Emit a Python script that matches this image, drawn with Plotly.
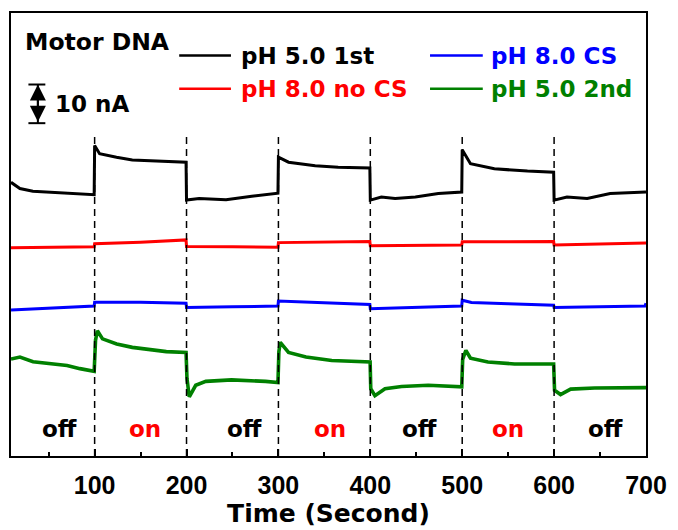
import plotly.graph_objects as go

# ---------------- data ----------------
t_black = [9, 18.7, 32.8, 69.7, 99.5, 100, 105.4, 123.8, 141, 199.5,
           200, 213.7, 243, 271, 299.5, 300, 311, 340, 365, 399.5,
           400, 412, 427, 449, 474, 499.5, 500, 509, 535, 571,
           599.5, 600, 614, 636, 661, 700]
i_black = [70.8, 69.2, 68.5, 68.0, 67.6, 80.3, 78.2, 77.3, 76.6, 76.0,
           66.2, 66.6, 66.3, 67.2, 68.0, 77.3, 76.0, 75.1, 74.7, 74.5,
           66.2, 67.0, 66.6, 67.0, 67.9, 68.3, 79.2, 75.6, 74.3, 73.7,
           73.4, 66.2, 67.0, 66.6, 67.9, 68.3]

t_red = [9, 50, 99.5, 100, 150, 199.5, 200, 250, 299.5, 300, 350, 399.5,
         400, 450, 499.5, 500, 550, 599.5, 600, 650, 700]
i_red = [53.9, 54.0, 54.1, 54.9, 55.3, 55.9, 54.2, 54.1, 54.0, 55.2, 55.4, 55.5,
         54.4, 54.5, 54.6, 55.4, 55.4, 55.5, 54.6, 54.8, 55.1]

t_blue = [9, 50, 99.5, 100, 150, 199.5, 200, 250, 299.5, 300, 350, 399.5,
          400, 450, 499.5, 500, 510, 550, 599.5, 600, 650, 699, 700]
i_blue = [37.8, 38.3, 38.8, 39.8, 39.8, 39.5, 38.4, 38.6, 38.8, 40.1, 39.7, 39.2,
          38.1, 38.5, 38.8, 40.3, 39.7, 39.4, 39.0, 38.4, 38.6, 38.8, 39.5]

t_green = [9, 18.7, 33, 51, 70, 84, 99.5, 101, 103, 108.6, 124, 141, 159.5, 178, 199.5,
           200.5, 203, 210, 221, 249, 286, 299.5, 300.5, 302, 311, 330, 358, 397, 399.8,
           400.5, 405, 416, 434, 463, 499.5, 500.5, 504, 509, 528, 557, 599.5,
           600.5, 607, 618, 644, 700]
i_green = [25.1, 25.6, 24.4, 23.8, 23.4, 22.6, 21.9, 30.0, 32.4, 30.3, 29.0, 28.1, 27.5, 27.0, 26.8,
           20.0, 15.3, 18.3, 19.3, 19.7, 19.3, 19.0, 27.0, 29.4, 26.8, 25.6, 24.7, 24.3, 24.3,
           17.4, 15.6, 17.4, 18.0, 18.3, 17.9, 25.0, 27.3, 25.3, 24.3, 23.8, 23.8,
           17.0, 15.9, 17.3, 17.6, 17.7]

series_names = ["pH 5.0 1st", "pH 8.0 no CS", "pH 8.0 CS", "pH 5.0 2nd"]
series_colors = ["#000000", "#ff0000", "#0000ff", "#008000"]

switch_times = [100, 200, 300, 400, 500, 600]
state_labels = ["off", "on", "off", "on", "off", "on", "off"]
state_x = [62, 155, 263, 356, 454, 550, 656]
x_ticks = [100, 200, 300, 400, 500, 600, 700]
minor_ticks = [50, 150, 250, 350, 450, 550, 650]
scale_bar_nA = 10

# ---------------- layout helpers ----------------
L, R, T, B = 11, 649, 11, 458
W, H = 678, 530


def px(x):
    return (x - L) / (R - L)


def py(y):
    return (B - y) / (B - T)


TXT = "DejaVu Sans"
fig = go.Figure()

data = [(t_black, i_black), (t_red, i_red), (t_blue, i_blue), (t_green, i_green)]
widths = [3, 3, 3, 3.6]
for (tt, ii), name, col, w in zip(data, series_names, series_colors, widths):
    fig.add_trace(go.Scatter(x=tt, y=ii, mode="lines", name=name,
                             line=dict(color=col, width=w), showlegend=False))

shapes = []
for st in switch_times:
    shapes.append(dict(type="line", xref="x", yref="y", x0=st, x1=st, y0=0, y1=83.8,
                       line=dict(color="black", width=1.5, dash="7px,5px")))

annotations = []
for lab, xx in zip(state_labels, state_x):
    annotations.append(dict(x=xx, y=py(431), xref="x", yref="paper", text=lab,
                            showarrow=False, xanchor="center", yanchor="middle",
                            font=dict(family=TXT, size=23, weight="bold",
                                      color="black" if lab == "off" else "#ff0000")))

# legend drawn manually
leg = [(180, 232, 54, 242), (180, 232, 87.5, 242), (432, 485, 54, 493), (432, 485, 87.5, 493)]
for (x0, x1, yy, xt), name, col in zip(leg, series_names, series_colors):
    shapes.append(dict(type="line", xref="paper", yref="paper", x0=px(x0), x1=px(x1),
                       y0=py(yy), y1=py(yy), line=dict(color=col, width=2.5)))
    annotations.append(dict(x=px(xt - 2), y=py(yy), xref="paper", yref="paper", text=name,
                            showarrow=False, xanchor="left", yanchor="middle",
                            font=dict(family=TXT, size=23, weight="bold", color=col)))

annotations.append(dict(x=px(23), y=py(40), xref="paper", yref="paper", text="Motor DNA",
                        showarrow=False, xanchor="left", yanchor="middle",
                        font=dict(family=TXT, size=23.5, weight="bold", color="black")))

# 10 nA scale bar
bar_top = 96.1
bar_bot = bar_top - scale_bar_nA
bx = px(38)
shapes.append(dict(type="line", xref="paper", yref="y", x0=bx, x1=bx, y0=bar_top, y1=bar_bot,
                   line=dict(color="black", width=2)))
for yy in (bar_top, bar_bot):
    shapes.append(dict(type="line", xref="paper", yref="y", x0=px(28.5), x1=px(45.5),
                       y0=yy, y1=yy, line=dict(color="black", width=2)))
annotations.append(dict(x=bx, y=bar_top, xref="paper", yref="y", ax=0, ay=bar_bot,
                        axref="pixel", ayref="y", text="", showarrow=True,
                        arrowhead=2, arrowside="end+start", arrowsize=1.6, arrowwidth=2,
                        arrowcolor="black"))
annotations.append(dict(x=px(53), y=py(102.5), xref="paper", yref="paper", text="10 nA",
                        showarrow=False, xanchor="left", yanchor="middle",
                        font=dict(family=TXT, size=23, weight="bold", color="black")))

fig.update_layout(
    width=W, height=H,
    margin=dict(l=L, r=W - R, t=T, b=H - B, pad=0),
    paper_bgcolor="white", plot_bgcolor="white",
    shapes=shapes, annotations=annotations,
    showlegend=False,
)
fig.update_xaxes(
    range=[9, 700], tickvals=x_ticks, ticktext=[str(v) for v in x_ticks],
    ticks="inside", ticklen=7, tickwidth=2, tickcolor="black",
    minor=dict(tickvals=minor_ticks, ticks="inside", ticklen=4, tickwidth=2, tickcolor="black"),
    showline=True, linewidth=2, linecolor="black", mirror=True,
    showgrid=False, zeroline=False,
    tickfont=dict(family="Liberation Sans", size=25, weight="bold", color="black"),
    ticklabelstandoff=6,
    title=dict(text="Time (Second)", standoff=2,
               font=dict(family=TXT, size=25, weight="bold", color="black")),
)
fig.update_yaxes(
    range=[0, 114.6], showticklabels=False, ticks="",
    showline=True, linewidth=2, linecolor="black", mirror=True,
    showgrid=False, zeroline=False,
)

fig.write_html("out.html")
